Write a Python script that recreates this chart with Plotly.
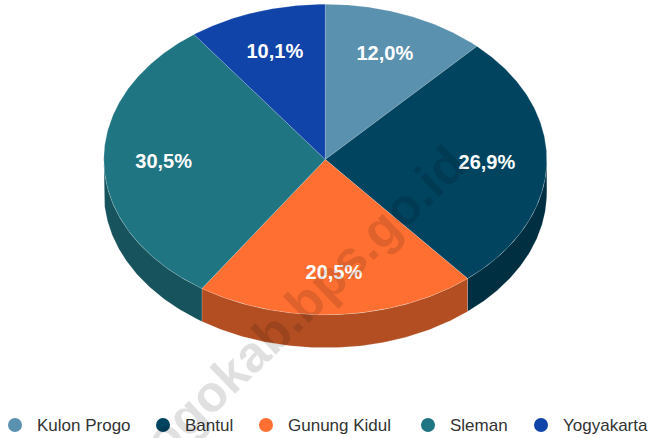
import numpy as np
import plotly.graph_objects as go

# ---- data ----
categories = ["Kulon Progo", "Bantul", "Gunung Kidul", "Sleman", "Yogyakarta"]
values = [12.0, 26.9, 20.5, 30.5, 10.1]
top_colors = ["#5a91ae", "#00445f", "#fe6f31", "#1f7582", "#1144a9"]
side_colors = ["#3f6579", "#002f42", "#b24e22", "#16535c", "#0c3076"]
watermark = "kulonprogokab.bps.go.id"

# ---- geometry (pixel space) ----
W, H = 649, 438
CX, CY = 325.3, 159.5
RX, RY = 221.5, 155.3
DEPTH = 33
LABEL_R = 0.73


def pt(t_deg, dy=0.0):
    t = np.radians(t_deg)
    return CX + RX * np.sin(t), CY - RY * np.cos(t) + dy


total = sum(values)
bounds = np.concatenate([[0], np.cumsum(values)]) / total * 360.0

fig = go.Figure()

# sides (front half only)
for i, name in enumerate(categories):
    a0, a1 = bounds[i], bounds[i + 1]
    s0, s1 = max(a0, 90), min(a1, 270)
    if s0 >= s1:
        continue
    ts = np.linspace(s0, s1, 120)
    xt, yt = pt(ts)
    xb, yb = pt(ts[::-1], DEPTH)
    xs = np.concatenate([xt, xb, xt[:1]])
    ys = np.concatenate([yt, yb, yt[:1]])
    fig.add_trace(go.Scatter(x=xs, y=ys, mode="lines", fill="toself",
                             fillcolor=side_colors[i],
                             line=dict(color="rgba(255,255,255,0.25)", width=0.6),
                             hoverinfo="skip", showlegend=False))

# top faces
for i, name in enumerate(categories):
    a0, a1 = bounds[i], bounds[i + 1]
    ts = np.linspace(a0, a1, 200)
    xa, ya = pt(ts)
    xs = np.concatenate([[CX], xa, [CX]])
    ys = np.concatenate([[CY], ya, [CY]])
    fig.add_trace(go.Scatter(x=xs, y=ys, mode="lines", fill="toself",
                             fillcolor=top_colors[i],
                             line=dict(color="rgba(255,255,255,0.3)", width=0.6),
                             name=name, hoverinfo="name", showlegend=False))

# data labels
mids = (bounds[:-1] + bounds[1:]) / 2
lx = CX + LABEL_R * RX * np.sin(np.radians(mids))
ly = CY - LABEL_R * RY * np.cos(np.radians(mids)) + 1
labels = [f"{v:.1f}".replace(".", ",") + "%" for v in values]
fig.add_trace(go.Scatter(x=lx, y=ly, mode="text", text=labels,
                         textfont=dict(family="Liberation Sans, Arial", size=20,
                                       color="white", weight="bold"),
                         hoverinfo="skip", showlegend=False))

# legend (manual, circles + text)
legend_x = [15, 163, 266, 428, 541]
legend_y = 425
fig.add_trace(go.Scatter(x=legend_x, y=[legend_y] * len(legend_x), mode="markers",
                         marker=dict(size=14, color=top_colors, symbol="circle"),
                         hoverinfo="skip", showlegend=False))
for i, name in enumerate(categories):
    fig.add_annotation(x=legend_x[i] + 20, y=legend_y, text=name, showarrow=False,
                       xanchor="left", yanchor="middle",
                       font=dict(family="Liberation Sans, Arial", size=17, color="#333333"))

# watermark
fig.add_annotation(x=237, y=367, text=watermark, showarrow=False, textangle=-44,
                   xanchor="center", yanchor="middle",
                   font=dict(family="Liberation Sans, Arial", size=51,
                             color="rgba(0,0,0,0.12)", weight="bold"))

fig.update_layout(
    width=W, height=H,
    margin=dict(l=0, r=0, t=0, b=0),
    paper_bgcolor="white", plot_bgcolor="white",
    xaxis=dict(range=[0, W], visible=False, fixedrange=True),
    yaxis=dict(range=[H, 0], visible=False, fixedrange=True),
    showlegend=False,
)

fig.write_html("out.html", config={"displayModeBar": False},
               post_script="document.body.style.margin='0';document.body.style.padding='0';"
                           "document.body.style.overflow='hidden';")
